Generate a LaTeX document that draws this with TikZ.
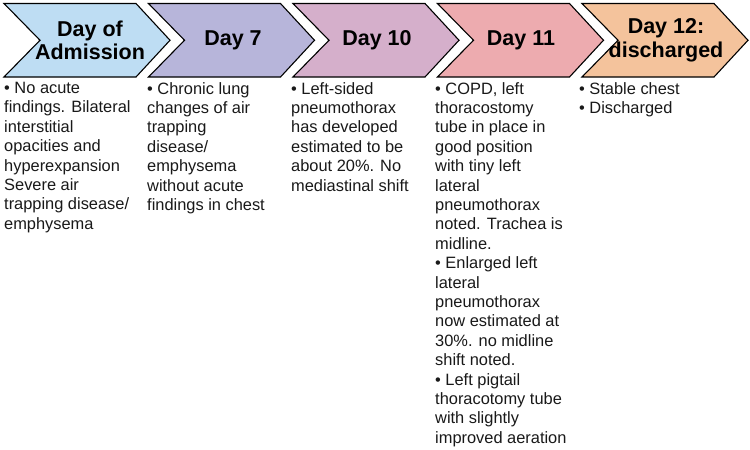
\documentclass[tikz,border=0pt]{standalone}
\usepackage{fontspec}
\setmainfont{Liberation Sans}
\begin{document}
\begin{tikzpicture}[x=1pt,y=-1pt,
  chevbox/.style={draw=black, line width=1.1pt, line join=miter},
  daytitle/.style={font=\bfseries\fontsize{21.5}{23.5}\selectfont, align=center, text=black},
  notes/.style={anchor=north west, align=left, inner sep=0pt,
    font=\fontsize{16.4}{19.4}\selectfont, text=black!90}]
\definecolor{cAdm}{HTML}{BEDDF3}
\definecolor{cSeven}{HTML}{B7B5DA}
\definecolor{cTen}{HTML}{D5AFCB}
\definecolor{cEleven}{HTML}{EDABAF}
\definecolor{cTwelve}{HTML}{F4C39C}
\useasboundingbox (0,0) rectangle (750,450);
\fill[white] (0,0) rectangle (750,450);
% chevron: left edge x, fill colour
\newcommand\chevron[2]{%
  \filldraw[chevbox, fill=#2] (#1,3.5) -- ++(132,0) -- ++(34,36.75) -- ++(-34,36.75)
    -- ++(-132,0) -- ++(36,-36.75) -- cycle;}
\chevron{4}{cAdm}
\chevron{148.5}{cSeven}
\chevron{293}{cTen}
\chevron{437.5}{cEleven}
\chevron{582}{cTwelve}

\node[daytitle] (t1) at (90,40.5) {Day of\\Admission};
\node[daytitle] (t2) at (233,40.5) {Day 7};
\node[daytitle] (t3) at (377,40.5) {Day 10};
\node[daytitle] (t4) at (521,40.5) {Day 11};
\node[daytitle] (t5) at (666,40.5) {Day 12:\\discharged};

\node[notes] (n1) at (4,82) {\textbullet{} No acute\\findings. Bilateral\\interstitial\\opacities and\\hyperexpansion\\Severe air\\trapping disease/\\emphysema};
\node[notes] (n2) at (147,82) {\textbullet{} Chronic lung\\changes of air\\trapping\\disease/\\emphysema\\without acute\\findings in chest};
\node[notes] (n3) at (291,82) {\textbullet{} Left-sided\\pneumothorax\\has developed\\estimated to be\\about 20\%. No\\mediastinal shift};
\node[notes] (n4) at (435,82) {\textbullet{} COPD, left\\thoracostomy\\tube in place in\\good position\\with tiny left\\lateral\\pneumothorax\\noted. Trachea is\\midline.\\\textbullet{} Enlarged left\\lateral\\pneumothorax\\now estimated at\\30\%. no midline\\shift noted.\\\textbullet{} Left pigtail\\thoracotomy tube\\with slightly\\improved aeration};
\node[notes] (n5) at (579,82) {\textbullet{} Stable chest\\\textbullet{} Discharged};
\end{tikzpicture}
\end{document}
